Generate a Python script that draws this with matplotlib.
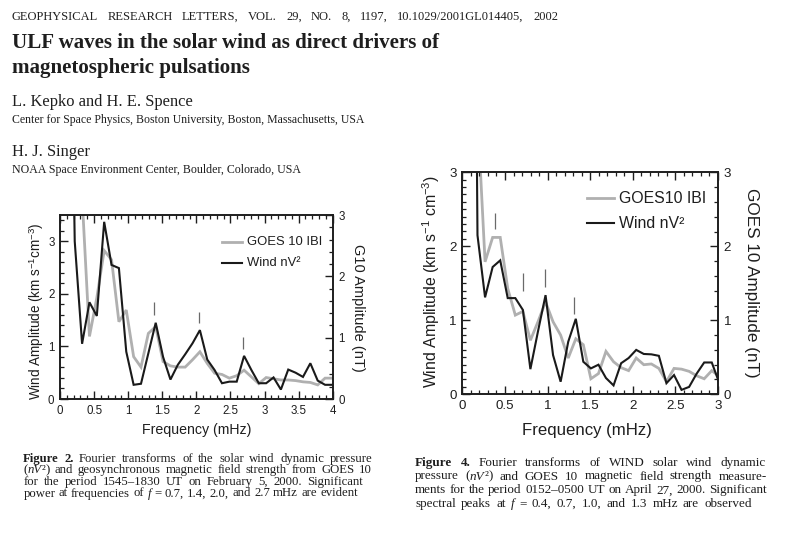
import matplotlib
matplotlib.use('Agg')
import matplotlib.pyplot as plt
from matplotlib.ticker import MultipleLocator
from matplotlib.lines import Line2D

plt.rcParams['font.family'] = ['Liberation Sans', 'DejaVu Sans']
plt.rcParams['mathtext.fontset'] = 'custom'
plt.rcParams['mathtext.rm'] = 'Liberation Sans'
plt.rcParams['mathtext.sf'] = 'Liberation Sans'
plt.rcParams['mathtext.it'] = 'Liberation Sans:italic'

# ---------------- data: Figure 2 (Feb 5, 2000) ----------------
f2_freq = [0.108, 0.216, 0.324, 0.432, 0.540, 0.648, 0.756, 0.864, 0.972, 1.080,
           1.188, 1.296, 1.404, 1.512, 1.620, 1.728, 1.836, 1.944, 2.052, 2.160,
           2.268, 2.376, 2.484, 2.592, 2.700, 2.808, 2.916, 3.024, 3.132, 3.240,
           3.348, 3.456, 3.564, 3.672, 3.780, 3.888, 3.996]
f2_wind = [12.0, 3.00, 1.05, 1.84, 1.58, 3.37, 2.55, 2.49, 0.90, 0.27,
           0.29, 0.87, 1.45, 0.80, 0.37, 0.65, 0.85, 1.06, 1.31, 0.75,
           0.55, 0.30, 0.33, 0.33, 0.82, 0.55, 0.30, 0.30, 0.41, 0.18,
           0.56, 0.50, 0.42, 0.68, 0.35, 0.27, 0.27]
f2_goes = [6.5, 4.8, 3.30, 1.02, 1.65, 2.42, 2.27, 1.26, 1.45, 0.69,
           0.52, 1.07, 1.18, 0.61, 0.54, 0.52, 0.52, 0.64, 0.77, 0.58,
           0.42, 0.40, 0.34, 0.38, 0.47, 0.36, 0.25, 0.35, 0.33, 0.31,
           0.31, 0.30, 0.28, 0.27, 0.23, 0.34, 0.34]
f2_xticks = [0, 0.5, 1, 1.5, 2, 2.5, 3, 3.5, 4]
f2_xticklabels = ['0', '0.5', '1', '1.5', '2', '2.5', '3', '3.5', '4']
f2_yticks = [0, 1, 2, 3]
f2_yticklabels = ['0', '1', '2', '3']
f2_mark_f = [1.38, 2.04, 2.69]
f2_mark_lo = [1.60, 1.44, 0.95]
f2_mark_hi = [1.85, 1.66, 1.18]

# ---------------- data: Figure 4 (Apr 27, 2000) ----------------
f4_freq = [0.089, 0.177, 0.266, 0.355, 0.444, 0.532, 0.621, 0.710, 0.798, 0.887,
           0.976, 1.064, 1.153, 1.242, 1.331, 1.419, 1.508, 1.597, 1.685, 1.774,
           1.863, 1.951, 2.040, 2.129, 2.218, 2.306, 2.395, 2.484, 2.572, 2.661,
           2.750, 2.838, 2.927, 3.016]
f4_wind = [15.0, 2.15, 1.31, 1.72, 1.81, 1.30, 1.30, 1.14, 0.34, 0.85,
           1.34, 0.53, 0.17, 0.71, 1.02, 0.44, 0.35, 0.40, 0.22, 0.12,
           0.42, 0.49, 0.60, 0.545, 0.54, 0.52, 0.15, 0.26, 0.06, 0.10,
           0.28, 0.43, 0.43, 0.15]
f4_goes = [8.0, 3.80, 1.79, 2.12, 2.12, 1.43, 1.07, 1.12, 0.73, 0.98,
           1.25, 0.98, 0.80, 0.49, 0.75, 0.67, 0.21, 0.28, 0.58, 0.44,
           0.36, 0.32, 0.49, 0.40, 0.41, 0.35, 0.17, 0.35, 0.34, 0.31,
           0.25, 0.21, 0.32, 0.24]
f4_xticks = [0, 0.5, 1, 1.5, 2, 2.5, 3]
f4_xticklabels = ['0', '0.5', '1', '1.5', '2', '2.5', '3']
f4_yticks = [0, 1, 2, 3]
f4_yticklabels = ['0', '1', '2', '3']
f4_mark_f = [0.381, 0.716, 0.97, 1.306]
f4_mark_lo = [2.24, 1.40, 1.45, 1.09]
f4_mark_hi = [2.45, 1.64, 1.70, 1.32]

# ---------------- figure ----------------
W, H = 800, 534
fig = plt.figure(figsize=(W / 100, H / 100), dpi=100)
fig.patch.set_facecolor('white')
renderer = fig.canvas.get_renderer()
TXT = '#1e1e1e'
BLACK = '#1a1a1a'
GRAY = '#b0b0b0'
SERIF = ['Liberation Serif', 'DejaVu Serif']
SANS = ['Liberation Sans', 'DejaVu Sans']


def fit_text(s, x0, x1, yb, **kw):
    t = fig.text(x0 / W, 1 - yb / H, s, ha='left', va='baseline', fontsize=10,
                 color=TXT, **kw)
    w = t.get_window_extent(renderer).width
    t.set_fontsize(10 * (x1 - x0) / w)
    return t


def fit_label(s, cx, cy, length, rotation=0, **kw):
    t = fig.text(cx / W, 1 - cy / H, s, ha='center', va='center', fontsize=10,
                 color=TXT, family=SANS, **kw)
    w = t.get_window_extent(renderer).width
    t.set_fontsize(10 * length / w)
    t.set_rotation(rotation)
    return t


STY = {'r': {}, 'b': {'weight': 'bold'}, 'i': {'style': 'italic'}}


def make_words(words, fs):
    items, widths = [], []
    for word in words:
        segs, wsum = [], 0
        for txt, st in word:
            t = fig.text(0, 0, txt, ha='left', va='baseline', fontsize=fs,
                         family=SERIF, color=TXT, **STY[st])
            w = t.get_window_extent(renderer).width
            segs.append((t, w))
            wsum += w
        items.append(segs)
        widths.append(wsum)
    return items, widths


def measure(words, fs):
    items, widths = make_words(words, fs)
    for segs in items:
        for t, w in segs:
            t.remove()
    return widths


def natural_fs(words, width):
    # font size at which the words with normal spaces fill the width
    widths = measure(words, 10)
    space = 0.25 * 10 * 100 / 72
    return 10 * width / (sum(widths) + space * (len(words) - 1))


def rich_line(words, x0, x1, yb, fs, justify=True):
    items, widths = make_words(words, fs)
    n = len(words) - 1
    if justify and n > 0:
        gap = (x1 - x0 - sum(widths)) / n
    else:
        gap = 0.25 * fs * 100 / 72
    x = x0
    for segs, wsum in zip(items, widths):
        xx = x
        for t, w in segs:
            t.set_position((xx / W, 1 - yb / H))
            xx += w
        x += wsum + gap


def R(s):
    return [[(w, 'r')] for w in s.split()]


NV = [[('(', 'r'), ('nV', 'i'), ('\u00b2', 'r'), (')', 'r')]]
FI = [[('f', 'i')]]

# ---------------- page header text ----------------
hdr = R('GEOPHYSICAL RESEARCH LETTERS, VOL. 29, NO. 8, 1197, 10.1029/2001GL014405, 2002')
hfs = 10 * 87 / measure([hdr[0]], 10)[0]
rich_line(hdr, 11.7, 558, 19.6, hfs)
t1 = fit_text('ULF waves in the solar wind as direct drivers of', 11.7, 443.3, 48.3,
              family=SERIF, weight='bold')
fig.text(11.7 / W, 1 - 73.3 / H, 'magnetospheric pulsations', ha='left', va='baseline',
         fontsize=t1.get_fontsize(), family=SERIF, weight='bold', color=TXT)
fit_text('L. Kepko and H. E. Spence', 11.7, 192.7, 106, family=SERIF)
fit_text('Center for Space Physics, Boston University, Boston, Massachusetts, USA',
         11.7, 364.3, 122.7, family=SERIF)
fit_text('H. J. Singer', 11.7, 89.3, 155.7, family=SERIF)
fit_text('NOAA Space Environment Center, Boulder, Colorado, USA', 11.7, 298.3, 172.7,
         family=SERIF)

# ---------------- captions ----------------
cap2 = [
    [[('Figure', 'b')], [('2.', 'b')]] + R('Fourier transforms of the solar wind dynamic pressure'),
    NV + R('and geosynchronous magnetic field strength from GOES 10'),
    R('for the period 1545\u20131830 UT on February 5, 2000. Significant'),
    R('power at frequencies of') + FI + R('= 0.7, 1.4, 2.0, and 2.7 mHz are evident'),
]
cap2_x0 = 23.3
cap2_x1 = [372, 372, 363, 358]
cap2_y = [461.7, 473.3, 485, 496.5]
fs2 = min(natural_fs(w, x1 - cap2_x0) for w, x1 in zip(cap2, cap2_x1)) * 0.99
for words, x1, yb in zip(cap2, cap2_x1, cap2_y):
    rich_line(words, cap2_x0, x1, yb, fs2)

cap4 = [
    [[('Figure', 'b')], [('4.', 'b')]] + R('Fourier transforms of WIND solar wind dynamic'),
    R('pressure') + NV + R('and GOES 10 magnetic field strength measure-'),
    R('ments for the period 0152\u20130500 UT on April 27, 2000. Significant'),
    R('spectral peaks at') + FI + R('= 0.4, 0.7, 1.0, and 1.3 mHz are observed'),
]
cap4_x0 = 415
cap4_x1 = [766, 766.7, 766.7, 751.7]
cap4_y = [466, 479.5, 493.3, 506.7]
fs4 = min(natural_fs(w, x1 - cap4_x0) for w, x1 in zip(cap4, cap4_x1)) * 0.99
for words, x1, yb in zip(cap4, cap4_x1, cap4_y):
    rich_line(words, cap4_x0, x1, yb, fs4)


# ---------------- charts ----------------
def chart(px_box, freq, wind, goes, xmax, ymax_left, xticks, xlabels, yticks, ylabels,
          left_minor, right_minor, mark_f, mark_lo, mark_hi, tick_fs):
    x0, x1, ytop, ybot = px_box
    ax = fig.add_axes([x0 / W, 1 - ybot / H, (x1 - x0) / W, (ybot - ytop) / H])
    ax2 = ax.twinx()
    ax2.plot(freq, goes, color=GRAY, lw=2.0, solid_joinstyle='miter')
    ax.plot(freq, wind, color=BLACK, lw=1.5, solid_joinstyle='miter')
    ax.vlines(mark_f, mark_lo, mark_hi, color='#6a6a6a', lw=0.9)
    ax.set_zorder(ax2.get_zorder() + 1)
    ax.patch.set_visible(False)
    ax.set_xlim(0, xmax)
    ax.set_ylim(0, ymax_left)
    ax2.set_ylim(0, 3)
    ax.set_xticks(xticks)
    ax.set_xticklabels(xlabels)
    ax.set_yticks(yticks)
    ax.set_yticklabels(ylabels)
    ax2.set_yticks(yticks)
    ax2.set_yticklabels(ylabels)
    ax.xaxis.set_minor_locator(MultipleLocator(0.1))
    ax.yaxis.set_minor_locator(MultipleLocator(left_minor))
    ax2.yaxis.set_minor_locator(MultipleLocator(right_minor))
    ax.tick_params(axis='x', which='both', direction='in', top=True, bottom=True,
                   labelsize=tick_fs, pad=4, colors=TXT)
    ax.tick_params(axis='y', which='both', direction='in', left=True, right=False,
                   labelsize=tick_fs, pad=4, colors=TXT)
    ax2.tick_params(axis='y', which='both', direction='in', left=False, right=True,
                    labelsize=tick_fs, pad=4, colors=TXT)
    for a in (ax, ax2):
        a.tick_params(which='major', length=6, width=1.0)
        a.tick_params(which='minor', length=3.2, width=0.9)
        for sp in a.spines.values():
            sp.set_linewidth(1.2)
            sp.set_color(TXT)
    return ax, ax2


chart((60, 332.7, 215, 399), f2_freq, f2_wind, f2_goes, 4, 3.5,
      f2_xticks, f2_xticklabels, f2_yticks, f2_yticklabels, 0.2, 0.2,
      f2_mark_f, f2_mark_lo, f2_mark_hi, 8.3)
chart((462.4, 718, 172.3, 394.3), f4_freq, f4_wind, f4_goes, 3, 3,
      f4_xticks, f4_xticklabels, f4_yticks, f4_yticklabels, 0.1, 0.2,
      f4_mark_f, f4_mark_lo, f4_mark_hi, 9.6)

# axis labels
fit_label(r'Wind Amplitude (km s$^{-1}$cm$^{-3}$)', 36, 311, 178, rotation=90)
fit_label('G10 Amplitude (nT)', 358, 308, 126.7, rotation=270)
fit_label('Frequency (mHz)', 196.7, 430, 110)
fit_label(r'Wind Amplitude (km s$^{-1}$ cm$^{-3}$)', 431, 281.7, 213, rotation=90)
fit_label('GOES 10 Amplitude (nT)', 751, 283, 190, rotation=270)
fit_label('Frequency (mHz)', 586.7, 430, 130)


# legends
def legend(xl0, xl1, y_gray, y_black, xt, gray_label, width_gray):
    fig.add_artist(Line2D([xl0 / W, xl1 / W], [1 - y_gray / H] * 2, color=GRAY, lw=2.0,
                          transform=fig.transFigure))
    fig.add_artist(Line2D([xl0 / W, xl1 / W], [1 - y_black / H] * 2, color=BLACK, lw=1.5,
                          transform=fig.transFigure))
    t = fig.text(xt / W, 1 - y_gray / H, gray_label, ha='left', va='center', fontsize=10,
                 family=SANS, color=TXT)
    w = t.get_window_extent(renderer).width
    fs = 10 * width_gray / w
    t.set_fontsize(fs)
    fig.text(xt / W, 1 - y_black / H, 'Wind nV\u00b2', ha='left', va='center', fontsize=fs,
             family=SANS, color=TXT)


legend(221.7, 241.7, 242.3, 262.7, 246.7, 'GOES 10 IBI', 75)
legend(586.7, 614, 198.3, 223.3, 619.3, 'GOES10 IBI', 87)

fig.savefig('out.png', dpi=100, facecolor='white')
